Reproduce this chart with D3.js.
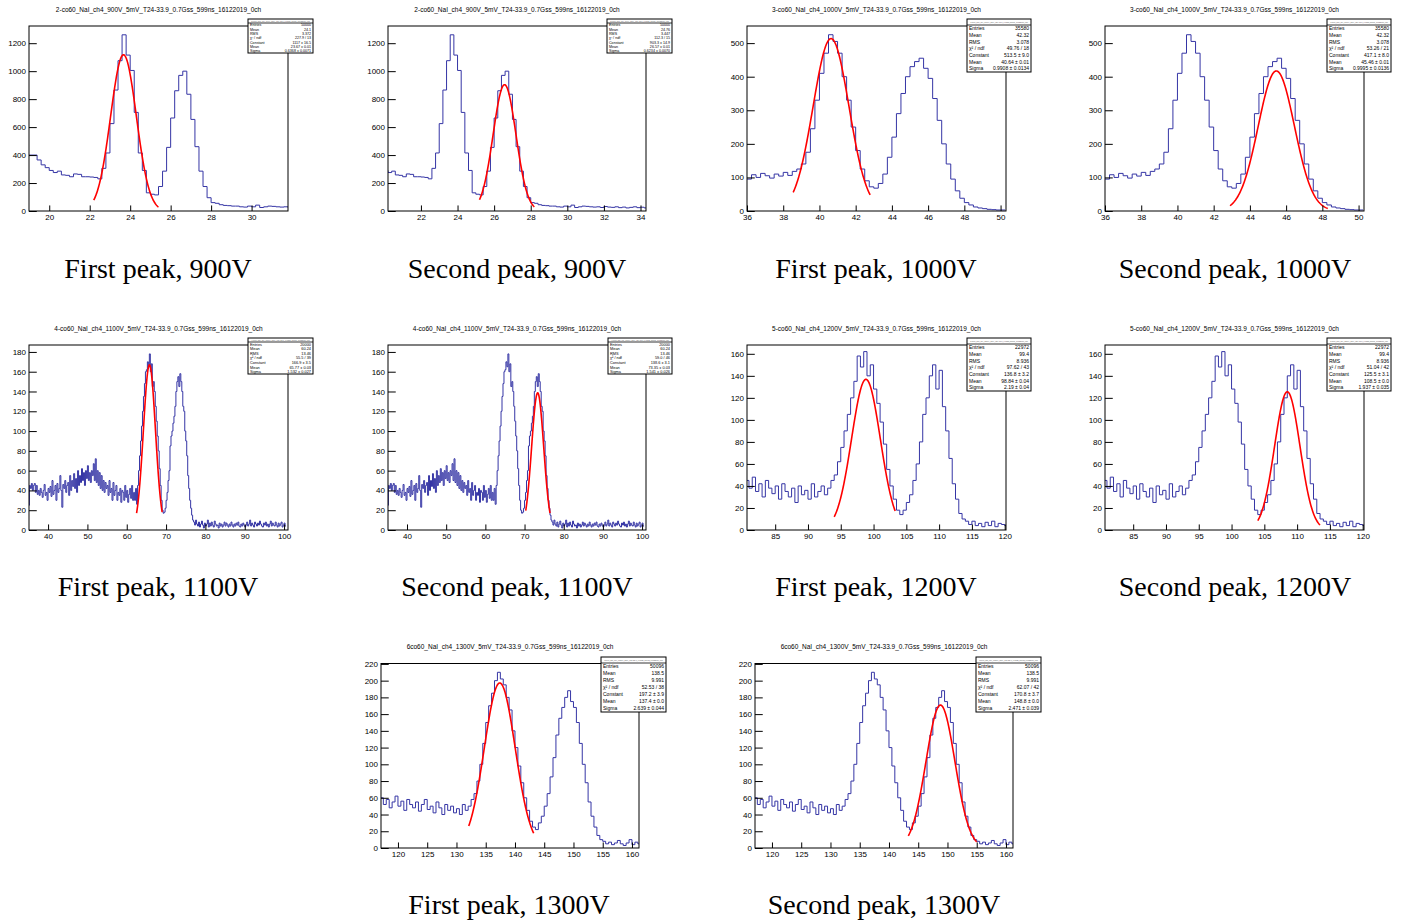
<!DOCTYPE html>
<html>
<head>
<meta charset="utf-8">
<script src="https://cdn.jsdelivr.net/npm/d3@7"></script>
<style>
body { margin: 0; background: #fff; }
</style>
</head>
<body>
<svg id="fig" width="1401" height="922"></svg>
<script>
// histogram contents (bin start, bin width, counts)
var h900Start = 19.0, h900Width = 0.2;
var h900 = [400,400,365,330,310,290,275,285,258,255,245,265,262,245,245,243,
	240,230,305,415,625,865,1075,1260,1115,1005,705,415,290,130,120,115,
	175,285,455,665,860,970,1000,835,655,460,285,175,95,
	60,55,45,40,38,35,35,30,28,35,30,42,25,30,35,33,30,28,30,25,32,28,26,30,24,28,22,26,30,24,27,22];

var h1000Start = 36.0, h1000Width = 0.25;
var h1000 = [95,108,100,112,105,98,110,104,115,106,118,125,140,175,245,330,410,470,525,505,
	470,400,330,250,180,125,90,72,68,82,110,160,220,290,350,400,430,445,455,425,
	395,335,270,200,140,95,60,38,25,18,12,9,7,5,4,3,3];

var h1100Start = 35.0, h1100Width = 0.25;
var h1100 = [25,45,42,47, 40,45,47,38, 45,36,40,35, 42,38,33,40, 46,35,38,30,
	42,38,44,34, 50,36,40,45, 30,47,38,42, 55,40,23,46, 42,50,38,45,
	48,35,55,40, 50,44,57,42, 52,38,60,45, 55,48,62,50, 58,45,60,52,
	65,50,58,48, 60,55,67,50, 72,48,60,45, 58,42,55,40, 50,38,48,42,
	45,35,50,38, 42,30,48,35, 40,45,30,38, 35,42,28,40, 38,30,45,33,
	40,28,36,42, 32,45,30,38, 30,42,26,45,
	60,75,90,105, 120,135,148,160, 162,170,165,178, 160,168,145,150, 140,125,110,95,
	80,62,45,30, 20,17,18,22, 30,38,50,60, 85,95,100,108, 115,125,140,150,
	155,145,158,150, 140,125,120,100, 90,75,55,42, 30,22,15,10, 8,5,10,6,
	4,8,3,6, 9,5,2,7, 4,6,10,3, 7,4,8,5, 3,9,6,4, 5,2,7,4, 6,3,5,8,
	4,7,5,3, 6,4,8,5, 3,6,4,7, 5,8,4,3, 6,4,7,5, 3,5,8,4, 6,10,4,7,
	5,3,8,6, 4,7,5,9, 6,4,3,7, 5,8,4,6, 3,6,9,4, 7,5,4,8, 5,3,7,4,
	6,8,3,5, 7,4];

var h1200Start = 80.5, h1200Width = 0.5;
var h1200 = [45,38,48,35,42,30,45,38,33,40,28,42,35,30,38,25,40,32,36,28,42,30,35,40,32,38,
	45,50,62,75,90,105,120,135,158,148,162,140,150,128,115,98,78,55,40,28,18,
	14,18,25,32,45,60,80,105,120,140,150,128,145,112,90,65,42,28,15,10,
	8,5,8,4,6,3,7,4,8,3,6,5,4];

var h1300Start = 117.0, h1300Width = 0.5;
var h1300 = [60,52,58,48,55,62,50,56,45,58,52,48,55,44,52,58,46,50,42,55,48,40,52,45,50,42,47,40,52,45,50,
	58,65,80,100,125,150,170,185,200,210,202,195,180,165,140,120,98,78,60,45,32,25,22,
	30,38,50,65,85,108,135,155,168,180,188,175,168,150,125,100,78,55,38,25,15,10,
	8,5,7,4,6,9,5,3,6,10,4,7,5];

// panels
var titles = [
	"2-co60_NaI_ch4_900V_5mV_T24-33.9_0.7Gss_599ns_16122019_0ch",
	"2-co60_NaI_ch4_900V_5mV_T24-33.9_0.7Gss_599ns_16122019_0ch",
	"3-co60_NaI_ch4_1000V_5mV_T24-33.9_0.7Gss_599ns_16122019_0ch",
	"3-co60_NaI_ch4_1000V_5mV_T24-33.9_0.7Gss_599ns_16122019_0ch",
	"4-co60_NaI_ch4_1100V_5mV_T24-33.9_0.7Gss_599ns_16122019_0ch",
	"4-co60_NaI_ch4_1100V_5mV_T24-33.9_0.7Gss_599ns_16122019_0ch",
	"5-co60_NaI_ch4_1200V_5mV_T24-33.9_0.7Gss_599ns_16122019_0ch",
	"5-co60_NaI_ch4_1200V_5mV_T24-33.9_0.7Gss_599ns_16122019_0ch",
	"6co60_NaI_ch4_1300V_5mV_T24-33.9_0.7Gss_599ns_16122019_0ch",
	"6co60_NaI_ch4_1300V_5mV_T24-33.9_0.7Gss_599ns_16122019_0ch"
];
var captions = ["First peak, 900V", "Second peak, 900V", "First peak, 1000V", "Second peak, 1000V",
	"First peak, 1100V", "Second peak, 1100V", "First peak, 1200V", "Second peak, 1200V",
	"First peak, 1300V", "Second peak, 1300V"];
var histOf = [0, 0, 1, 1, 2, 2, 3, 3, 4, 4];
var axisMin = [19, 20.2, 36, 36, 35.15, 35.15, 80.7, 80.7, 117.1, 117.1];
var axisMax = [31.8, 34.3, 50.3, 50.3, 101, 101, 120.2, 120.2, 161.2, 161.2];
var yTop = [1323, 1323, 551, 551, 187, 187, 168, 168, 220.5, 220.5];
var xTickStep = [2, 2, 2, 2, 10, 10, 5, 5, 5, 5];
var yTickStep = [200, 200, 100, 100, 20, 20, 20, 20, 20, 20];

// gaussian fits
var fitConstant = [1117, 903.3, 513.5, 417.1, 166.9, 138.6, 136.8, 125.5, 197.2, 170.8];
var fitMean = [23.67, 26.57, 40.64, 45.46, 65.77, 73.35, 98.84, 108.5, 137.4, 148.8];
var fitSigma = [0.6368, 0.6234, 0.9908, 0.9995, 1.532, 1.541, 2.19, 1.937, 2.639, 2.471];
var fitLow = [22.2, 25.2, 38.55, 42.9, 62.5, 70.3, 94, 104, 132.1, 143.3];
var fitHigh = [25.4, 28.2, 42.8, 48.3, 69.0, 76.5, 103.3, 113.5, 143.2, 155];

// stat box texts
var statEntries = ["50000", "50000", "35580", "35580", "20000", "20000", "22972", "22972", "50096", "50096"];
var statMean = ["24.1", "24.76", "42.32", "42.32", "60.24", "60.24", "99.4", "99.4", "138.5", "138.5"];
var statRMS = ["3.372", "3.447", "3.078", "3.078", "13.46", "13.46", "8.936", "8.936", "9.991", "9.991"];
var statChi2 = ["227.9 / 13", "112.3 / 15", "49.76 / 18", "53.26 / 21", "55.5 / 39", "59.0 / 46",
	"97.62 / 43", "51.04 / 42", "52.53 / 38", "62.07 / 42"];
var statConstant = ["1117 ± 16.5", "903.3 ± 14.9", "513.5 ± 9.0", "417.1 ± 8.0", "166.9 ± 3.5", "138.6 ± 3.1",
	"136.8 ± 3.2", "125.5 ± 3.1", "197.2 ± 3.9", "170.8 ± 3.7"];
var statFitMean = ["23.67 ± 0.01", "26.57 ± 0.01", "40.64 ± 0.01", "45.46 ± 0.01", "65.77 ± 0.03", "73.35 ± 0.03",
	"98.84 ± 0.04", "108.5 ± 0.0", "137.4 ± 0.0", "148.8 ± 0.0"];
var statSigma = ["0.6368 ± 0.0071", "0.6234 ± 0.0070", "0.9908 ± 0.0134", "0.9995 ± 0.0136", "1.532 ± 0.027",
	"1.541 ± 0.026", "2.19 ± 0.04", "1.937 ± 0.035", "2.639 ± 0.044", "2.471 ± 0.039"];

var hists = [
	{s: h900Start, w: h900Width, v: h900},
	{s: h1000Start, w: h1000Width, v: h1000},
	{s: h1100Start, w: h1100Width, v: h1100},
	{s: h1200Start, w: h1200Width, v: h1200},
	{s: h1300Start, w: h1300Width, v: h1300}
];

// layout: frame [left, top, right, bottom], stat box, caption
var frames = [[29, 26, 288, 211], [388, 26, 646, 211], [747, 26, 1006, 211], [1105, 26, 1364, 211],
	[29, 345, 288, 530], [388, 345, 646, 530], [747, 345, 1006, 530], [1105, 345, 1364, 530],
	[381, 663.5, 639, 848], [755, 663.5, 1013, 848]];
var statBoxes = [[248, 19, 313, 53, 4], [607, 19, 672, 53, 4], [967, 19, 1031, 72, 6], [1327, 19, 1391, 72, 6],
	[248, 338, 313, 374, 4], [608, 338, 672, 374, 4], [967, 338, 1031, 391, 6], [1327, 338, 1391, 391, 6],
	[601, 657, 666, 712, 6], [976, 657, 1041, 712, 6]];
var captionPos = [[158, 278], [517, 278], [876, 278], [1235, 278], [158, 596], [517, 596], [876, 596], [1235, 596],
	[509, 914], [884, 914]];

var sans = "'Liberation Sans', Arial, sans-serif";
var serif = "'Liberation Serif', 'Times New Roman', serif";

var svg = d3.select("#fig");
svg.append("rect").attr("width", 1401).attr("height", 922).attr("fill", "#fff");

function ticksBetween(lo, hi, step) {
	var out = [];
	var first = Math.ceil(lo / step - 1e-9) * step;
	for (var t = first; t <= hi + 1e-9; t += step) out.push(+t.toFixed(6));
	return out;
}

function minorCount(step) {
	var lead = step / Math.pow(10, Math.floor(Math.log10(step)));
	return Math.round(lead) == 2 ? 4 : 5;
}

function drawPanel(i) {
	var f = frames[i];
	var g = svg.append("g").style("font-family", sans);
	var x = d3.scaleLinear().domain([axisMin[i], axisMax[i]]).range([f[0], f[2]]);
	var y = d3.scaleLinear().domain([0, yTop[i]]).range([f[3], f[1]]);
	var xt = (f[3] - f[1]) * 0.03, yt = (f[2] - f[0]) * 0.03;

	g.append("clipPath").attr("id", "clip" + i)
		.append("rect").attr("x", f[0]).attr("y", f[1]).attr("width", f[2] - f[0]).attr("height", f[3] - f[1]);

	// histogram steps
	var h = hists[histOf[i]];
	var pts = h.v.map(function(v, k) { return [h.s + k * h.w, v]; });
	pts.push([h.s + h.v.length * h.w, h.v[h.v.length - 1]]);
	g.append("path")
		.attr("clip-path", "url(#clip" + i + ")")
		.attr("d", d3.line().curve(d3.curveStepAfter)
			.x(function(d) { return x(d[0]); })
			.y(function(d) { return y(d[1]); })(pts))
		.attr("fill", "none")
		.attr("stroke", "#3535a5")
		.attr("stroke-width", 1);

	// fit curve
	var n = 200, lo = fitLow[i], hi = fitHigh[i];
	var fp = d3.range(n + 1).map(function(k) {
		var a = lo + (hi - lo) * k / n;
		var z = (a - fitMean[i]) / fitSigma[i];
		return [a, fitConstant[i] * Math.exp(-0.5 * z * z)];
	});
	g.append("path")
		.attr("clip-path", "url(#clip" + i + ")")
		.attr("d", d3.line().x(function(d) { return x(d[0]); }).y(function(d) { return y(d[1]); })(fp))
		.attr("fill", "none")
		.attr("stroke", "#ff0000")
		.attr("stroke-width", 1.6);

	// axes
	var xs = xTickStep[i], ys = yTickStep[i];
	var xMinor = ticksBetween(axisMin[i], axisMax[i], xs / minorCount(xs));
	var yMinor = ticksBetween(0, yTop[i], ys / minorCount(ys));

	var ax = g.append("g").attr("transform", "translate(0," + f[3] + ")");
	ax.call(d3.axisBottom(x).tickValues(xMinor).tickSize(-xt / 2).tickFormat(""));
	ax.call(d3.axisBottom(x).tickValues(ticksBetween(axisMin[i], axisMax[i], xs))
		.tickSize(-xt).tickPadding(3).tickFormat(d3.format("d")));
	var ay = g.append("g").attr("transform", "translate(" + f[0] + ",0)");
	ay.call(d3.axisLeft(y).tickValues(yMinor).tickSize(-yt / 2).tickFormat(""));
	ay.call(d3.axisLeft(y).tickValues(ticksBetween(0, yTop[i], ys))
		.tickSize(-yt).tickPadding(3).tickFormat(d3.format("d")));
	g.selectAll(".domain").remove();
	g.selectAll(".tick line").attr("stroke", "#000");
	g.selectAll(".tick text").attr("fill", "#000")
		.style("font-size", "8px").style("font-family", sans);

	// frame
	g.append("rect").attr("x", f[0]).attr("y", f[1])
		.attr("width", f[2] - f[0]).attr("height", f[3] - f[1])
		.attr("fill", "none").attr("stroke", "#000").attr("stroke-width", 1);

	// title
	g.append("text").attr("x", (f[0] + f[2]) / 2).attr("y", f[1] - 14.5)
		.attr("text-anchor", "middle").style("font-size", "6.5px").text(titles[i]);

	// stat box
	var b = statBoxes[i];
	g.append("rect").attr("x", b[0]).attr("y", b[1]).attr("width", b[2] - b[0]).attr("height", b[3] - b[1])
		.attr("fill", "#fff").attr("stroke", "#000").attr("stroke-width", 1);
	g.append("line").attr("x1", b[0]).attr("x2", b[2]).attr("y1", b[1] + b[4]).attr("y2", b[1] + b[4])
		.attr("stroke", "#000").attr("stroke-width", 0.8);
	// histogram name in the box header, shrunk to fit the box width
	var hdr = g.append("text").attr("x", (b[0] + b[2]) / 2).attr("y", b[1] + b[4] * 0.72)
		.attr("text-anchor", "middle").style("font-size", "3px").attr("fill", "#555").text(titles[i]);
	var natural = hdr.node().getComputedTextLength();
	hdr.style("font-size", (3 * (b[2] - b[0] - 6) / natural) + "px");
	var rows = [["Entries", statEntries[i]], ["Mean", statMean[i]], ["RMS", statRMS[i]],
		["\u03c7\u00b2 / ndf", statChi2[i]], ["Constant", statConstant[i]], ["Mean", statFitMean[i]],
		["Sigma", statSigma[i]]];
	var rh = (b[3] - b[1] - b[4]) / rows.length;
	var fs = Math.min(rh * 0.85, 5);
	rows.forEach(function(r, k) {
		var cy = b[1] + b[4] + (k + 0.5) * rh + fs * 0.35;
		g.append("text").attr("x", b[0] + 2).attr("y", cy).style("font-size", fs + "px").text(r[0]);
		g.append("text").attr("x", b[2] - 2).attr("y", cy).style("font-size", fs + "px")
			.attr("text-anchor", "end").text(r[1]);
	});

	// caption
	svg.append("text").attr("x", captionPos[i][0]).attr("y", captionPos[i][1])
		.attr("text-anchor", "middle")
		.style("font-family", serif)
		.style("font-size", "28px")
		.text(captions[i]);
}

for (var i = 0; i < titles.length; i++) drawPanel(i);
</script>
</body>
</html>
